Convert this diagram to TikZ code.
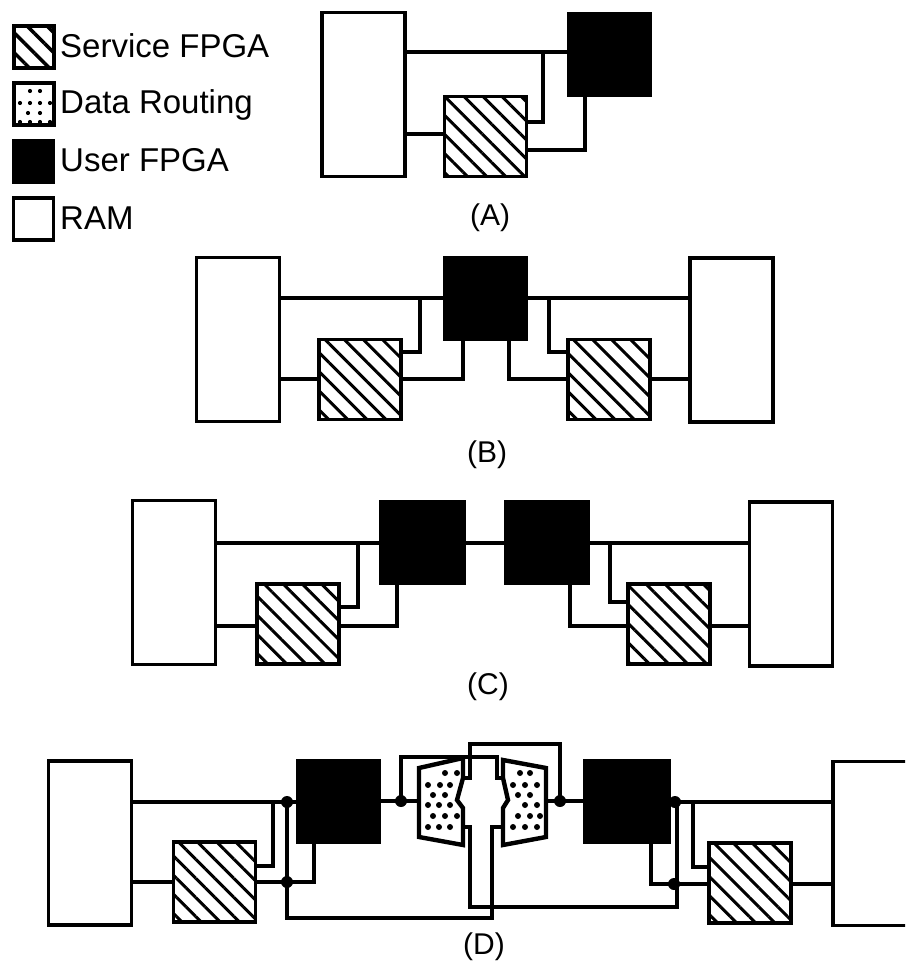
\documentclass[tikz,border=0pt]{standalone}
\usepackage{fontspec}
\setmainfont{Liberation Sans}
\usetikzlibrary{patterns.meta}

\begin{document}
\begin{tikzpicture}[x=1pt, y=-1pt,
    ram/.style={
        rectangle, draw=black, line width=3.6pt, inner sep=0pt, outer sep=0pt,
        minimum width=#1, minimum height=164pt
    },
    ram/.default=83pt,
    sfpga/.style={
        rectangle, draw=black, line width=3.6pt, inner sep=0pt, outer sep=0pt,
        minimum width=82pt, minimum height=80pt,
        pattern={Lines[angle=-45, distance=13.5pt, line width=3pt]}
    },
    ufpga/.style={
        rectangle, draw=black, fill=black, inner sep=0pt, outer sep=0pt,
        minimum width=84pt, minimum height=84pt
    },
    keybox/.style={
        rectangle, draw=black, line width=3.6pt, inner sep=0pt, outer sep=0pt,
        minimum width=40pt, minimum height=42pt
    },
    keytext/.style={anchor=base west, inner sep=0pt, font=\fontsize{33}{33}\selectfont},
    caption/.style={inner sep=0pt, font=\fontsize{30}{30}\selectfont},
    wire/.style={line width=3.6pt, line join=miter},
    route/.style={draw=black, line width=4.4pt, line join=miter},
    junction/.style={circle, fill=black, inner sep=0pt, minimum size=12pt}
]
\clip (0,0) rectangle (905,969);

\node[keybox, pattern={Lines[angle=-45, distance=14pt, line width=3.4pt]}] (keyS) at (34,47) {};
\node[keybox] (keyD) at (34,104) {};
\node[keybox, fill=black] (keyU) at (33.5,161.5) {};
\node[keybox] (keyR) at (33.5,219) {};
\foreach \y/\xs in {91/{30,40}, 103/{20,30,40,50}, 113/{28,40}, 122/{20,30,40,50}}
    \foreach \x in \xs
        \fill (\x,\y) circle (2.1pt);
\node[keytext] (txtS) at (60,57) {Service FPGA};
\node[keytext] (txtD) at (60,113) {Data Routing};
\node[keytext] (txtU) at (60,171) {User FPGA};
\node[keytext] (txtR) at (60,229) {RAM};

\node[ram] (ramA) at (363.5,94.5) {};
\node[sfpga] (srvA) at (485.5,136.5) {};
\node[ufpga] (usrA) at (609,54.5) {};
\coordinate (topA) at (543,52);
\coordinate (lowA) at (585,134);
\coordinate (tapA) at (543,122);
\coordinate (legA) at (585,150);
\draw[wire] (ramA.east |- topA) -- (usrA.west |- topA);
\draw[wire] (ramA.east |- lowA) -- (srvA.west |- lowA);
\draw[wire] (topA) -- (tapA) -- (srvA.east |- tapA);
\draw[wire] (srvA.east |- legA) -- (legA) -- (usrA.south -| legA);
\node[caption] (capA) at (490,218) {(A)};

\node[ram] (ramB) at (238,339.5) {};
\node[sfpga] (srvB) at (360,379.5) {};
\node[ufpga] (usrB) at (485,298.5) {};
\node[sfpga] (srvBr) at (609,379.5) {};
\node[ram] (ramBr) at (731.5,340) {};
\coordinate (topB) at (420,298);
\coordinate (lowB) at (463,379);
\coordinate (tapB) at (420,352);
\coordinate (tapBr) at (549,352);
\coordinate (legBr) at (509,379);
\draw[wire] (ramB.east |- topB) -- (usrB.west |- topB);
\draw[wire] (ramB.east |- lowB) -- (srvB.west |- lowB);
\draw[wire] (topB) -- (tapB) -- (srvB.east |- tapB);
\draw[wire] (srvB.east |- lowB) -- (lowB) -- (usrB.south -| lowB);
\draw[wire] (usrB.east |- topB) -- (ramBr.west |- topB);
\draw[wire] (tapBr |- topB) -- (tapBr) -- (srvBr.west |- tapBr);
\draw[wire] (usrB.south -| legBr) -- (legBr) -- (srvBr.west |- legBr);
\draw[wire] (srvBr.east |- legBr) -- (ramBr.west |- legBr);
\node[caption] (capB) at (487,455) {(B)};

\node[ram] (ramC) at (174,582.5) {};
\node[sfpga] (srvC) at (298,624) {};
\node[ufpga, minimum width=86pt] (usrC) at (422,542.5) {};
\node[ufpga, minimum width=85pt] (usrCr) at (546.5,542.5) {};
\node[sfpga] (srvCr) at (669,624) {};
\node[ram] (ramCr) at (791,584) {};
\coordinate (topC) at (358,543);
\coordinate (lowC) at (397,626);
\coordinate (tapC) at (358,607);
\coordinate (tapCr) at (610,602);
\coordinate (legCr) at (570,626);
\draw[wire] (ramC.east |- topC) -- (usrC.west |- topC);
\draw[wire] (ramC.east |- lowC) -- (srvC.west |- lowC);
\draw[wire] (topC) -- (tapC) -- (srvC.east |- tapC);
\draw[wire] (srvC.east |- lowC) -- (lowC) -- (usrC.south -| lowC);
\draw[wire] (usrC.east |- topC) -- (usrCr.west |- topC);
\draw[wire] (usrCr.east |- topC) -- (ramCr.west |- topC);
\draw[wire] (tapCr |- topC) -- (tapCr) -- (srvCr.west |- tapCr);
\draw[wire] (usrCr.south -| legCr) -- (legCr) -- (srvCr.west |- legCr);
\draw[wire] (srvCr.east |- legCr) -- (ramCr.west |- legCr);
\node[caption] (capC) at (488,687) {(C)};

\node[ram] (ramD) at (90,843) {};
\node[sfpga] (srvD) at (214.5,882) {};
\node[ufpga] (usrD) at (338,801.5) {};
\node[ufpga, minimum width=87pt] (usrDr) at (626.5,801.5) {};
\node[sfpga] (srvDr) at (750,883) {};
\node[ram=84pt] (ramDr) at (875,843.5) {};

\coordinate (topD) at (287,802);
\coordinate (lowD) at (287,882);
\coordinate (tapD) at (273,866);
\coordinate (legD) at (314,882);
\coordinate (topDr) at (677,802);
\coordinate (lowDr) at (677,884);
\coordinate (tapDr) at (693,867);
\coordinate (legDr) at (651,884);
\coordinate (midL) at (401,801);
\coordinate (midR) at (560,801);
\coordinate (routeL) at (419,801);
\coordinate (routeR) at (546,801);
\coordinate (neckL) at (463,778);
\coordinate (neckR) at (503,778);
\coordinate (footL) at (463,827);
\coordinate (footR) at (503,827);
\coordinate (stemL) at (470,907);
\coordinate (stemR) at (492,918);

\draw[route] (419,768) -- (463,758) -- (neckL) -- (457,800) -- (463,808) -- (footL)
    -- (463,845) -- (419,837) -- cycle;
\draw[route] (546,768) -- (503,760) -- (neckR) -- (508,800) -- (503,808) -- (footR)
    -- (503,845) -- (546,837) -- cycle;
\foreach \y/\xs in {773/{445,457}, 785/{428,440,450}, 795/{433,445}, 805/{428,439,450},
                    816/{433,445,457}, 827/{428,439,450}}
    \foreach \x in \xs
        \fill (\x,\y) circle (3pt);
\foreach \y/\xs in {773/{520,530}, 785/{513,525,537}, 795/{518,530}, 805/{525,537},
                    816/{518,530,540}, 827/{513,525,537}}
    \foreach \x in \xs
        \fill (\x,\y) circle (3pt);

\draw[wire] (ramD.east |- topD) -- (usrD.west |- topD);
\draw[wire] (ramD.east |- lowD) -- (srvD.west |- lowD);
\draw[wire] (tapD |- topD) -- (tapD) -- (srvD.east |- tapD);
\draw[wire] (srvD.east |- legD) -- (legD) -- (usrD.south -| legD);
\draw[wire] (usrD.east |- midL) -- (routeL);
\draw[wire] (routeR) -- (usrDr.west |- midR);
\draw[wire] (midL) -- (midL |- 0,757) -- (497,757) -- (497,778) -- (neckR);
\draw[wire] (neckL) -- (470,778) -- (470,744) -- (midR |- 0,744) -- (midR);
\draw[wire] (footL) -- (470,827) -- (stemL) -- (stemL -| topDr) -- (topDr);
\draw[wire] (footR) -- (492,827) -- (stemR) -- (stemR -| topD) -- (topD);
\draw[wire] (usrDr.east |- topDr) -- (ramDr.west |- topDr);
\draw[wire] (tapDr |- topDr) -- (tapDr) -- (srvDr.west |- tapDr);
\draw[wire] (usrDr.south -| legDr) -- (legDr) -- (srvDr.west |- legDr);
\draw[wire] (srvDr.east |- lowDr) -- (ramDr.west |- lowDr);

\node[junction] (dotA) at (topD) {};
\node[junction] (dotB) at (lowD) {};
\node[junction] (dotC) at (midL) {};
\node[junction] (dotE) at (midR) {};
\node[junction] (dotF) at (675,802) {};
\node[junction] (dotG) at (674,884) {};
\node[caption] (capD) at (484,947) {(D)};
\end{tikzpicture}
\end{document}
